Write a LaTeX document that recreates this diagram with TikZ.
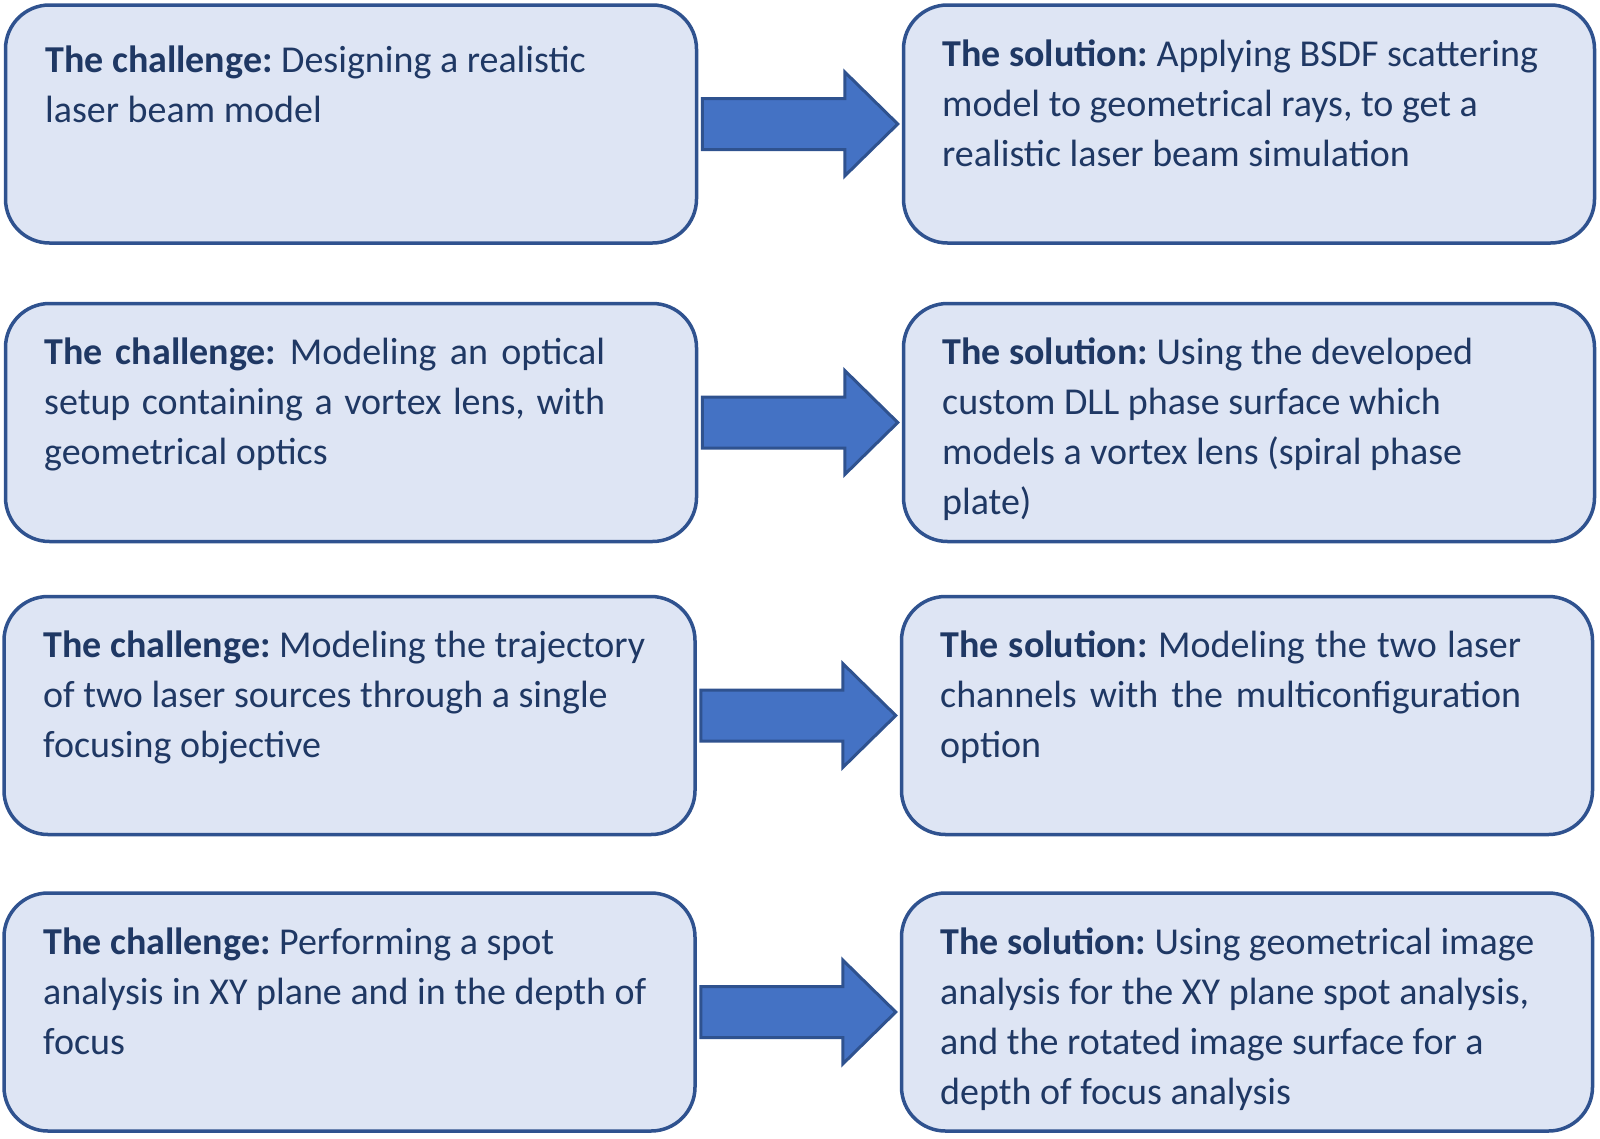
\documentclass[tikz,border=0pt]{standalone}
\usepackage{fontspec}
\setmainfont{Carlito}
\usetikzlibrary{calc}
\definecolor{boxfill}{HTML}{DEE5F4}
\definecolor{boxline}{HTML}{2F528F}
\definecolor{arrfill}{HTML}{4472C4}
\definecolor{txtcol}{HTML}{1F3864}
\newcommand{\jline}[2]{\makebox[#1pt][s]{#2}}
\newcommand{\fstrut}{\rule{0pt}{31pt}}
\frenchspacing
\tikzset{
  box/.style={draw=boxline, fill=boxfill, line width=3.5pt, rounded corners=44pt,
    minimum width=691pt, minimum height=238pt, inner sep=0pt},
  txt/.style={anchor=north west, inner sep=0pt, align=left, text=txtcol,
    font=\fontsize{38}{50}\selectfont\frenchspacing},
  blockarrow/.style={draw=boxline, fill=arrfill, line width=3pt, line join=miter}
}
\newcommand{\blockarrow}[2]{%
  \draw[blockarrow] let \p1=($(#1.east)+(4pt,0)$), \p2=($(#2.west)+(-4pt,0)$) in
    (\x1,\y1+25.5pt) -- (\x2-53pt,\y1+25.5pt) -- (\x2-53pt,\y1+52pt) -- (\x2,\y1)
    -- (\x2-53pt,\y1-52pt) -- (\x2-53pt,\y1-25.5pt) -- (\x1,\y1-25.5pt) -- cycle;}
\begin{document}
\begin{tikzpicture}[x=1pt, y=-1pt]
\useasboundingbox (0,0) rectangle (1600,1138);
% boxes
\node[box] (L1) at (351,124) {};
\node[box] (R1) at (1249,124) {};
\node[box] (L2) at (351,422.5) {};
\node[box] (R2) at (1249,422.5) {};
\node[box] (L3) at (349.5,715.5) {};
\node[box] (R3) at (1247,715.5) {};
\node[box] (L4) at (349.5,1012) {};
\node[box] (R4) at (1247,1012) {};
% texts
\node[txt] (tL1) at (45,41) {\fstrut\textbf{The challenge:} Designing a realistic\\laser beam model};
\node[txt] (tR1) at (942,35) {\fstrut\textbf{The solution:} Applying BSDF scattering\\model to geometrical rays, to get a\\realistic laser beam simulation};
\node[txt] (tL2) at (44,333) {\fstrut\jline{561}{\textbf{The challenge:} Modeling an optical}\\\jline{561}{setup containing a vortex lens, with}\\geometrical optics};
\node[txt] (tR2) at (942,333) {\fstrut\textbf{The solution:} Using the developed\\custom DLL phase surface which\\models a vortex lens (spiral phase\\plate)};
\node[txt] (tL3) at (43,626) {\fstrut\textbf{The challenge:} Modeling the trajectory\\of two laser sources through a single\\focusing objective};
\node[txt] (tR3) at (940,626) {\fstrut\jline{581}{\textbf{The solution:} Modeling the two laser}\\\jline{581}{channels with the multiconfiguration}\\option};
\node[txt] (tL4) at (43,923) {\fstrut\textbf{The challenge:} Performing a spot\\analysis in XY plane and in the depth of\\focus};
\node[txt] (tR4) at (940,923) {\fstrut\textbf{The solution:} Using geometrical image\\analysis for the XY plane spot analysis,\\and the rotated image surface for a\\depth of focus analysis};
% arrows
\blockarrow{L1}{R1}
\blockarrow{L2}{R2}
\blockarrow{L3}{R3}
\blockarrow{L4}{R4}
\end{tikzpicture}
\end{document}
